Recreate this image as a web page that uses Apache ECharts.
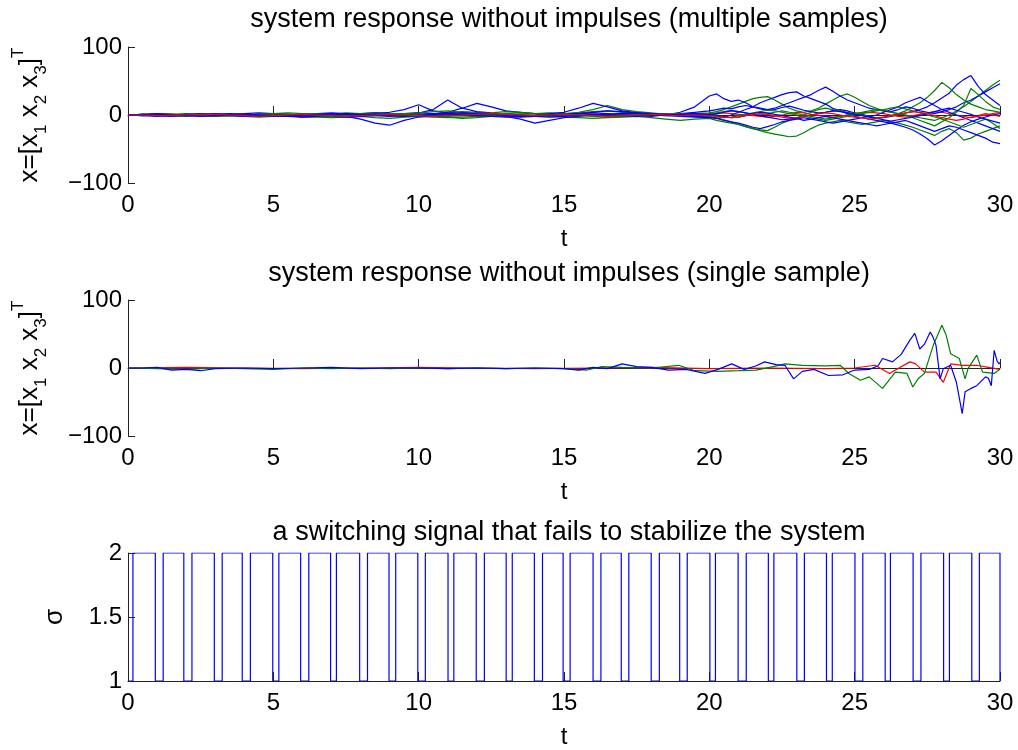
<!DOCTYPE html>
<html><head><meta charset="utf-8">
<script src="https://cdn.jsdelivr.net/npm/echarts@6/dist/echarts.min.js"></script>
<style>html,body{margin:0;padding:0;background:#fff}#c{width:1018px;height:750px}</style>
</head><body><div id="c"></div>
<script>
// ---------- data ----------
const xTicks = [0,5,10,15,20,25,30];
const T = [0,0.5,1,1.5,2,2.5,3,3.5,4,4.5,5,5.5,6,6.5,7,7.5,8,8.5,9,9.5,10,10.5,11,11.5,12,12.5,13,13.5,14,14.5,15,15.5,16,16.5,17,17.5,18,18.5,19,19.5,20,
 20.25,20.5,20.75,21,21.25,21.5,21.75,22,22.25,22.5,22.75,23,23.25,23.5,23.75,24,24.25,24.5,24.75,25,25.25,25.5,25.75,26,26.25,26.5,26.75,27,27.25,27.5,27.75,28,28.25,28.5,28.75,29,29.25,29.5,29.75,30];
// multiple samples (top panel)
const B1 = [0,1,0,-1,1,2,1,0,-1,-2,-1,0,1,2,3,2,1,2,4,8,15,6,3,2,1,0,-2,-3,-2,-1,0,2,3,2,1,0,-2,0,4,12,28,
 31,24,20,22,18,12,9,7,8,11,13,10,7,5,3,4,6,8,6,3,1,-2,-5,-4,-2,0,3,5,8,12,18,25,32,44,52,58,42,30,22,14];
const B2 = [0,0,-1,-2,-1,0,1,2,1,0,-1,-2,-3,-2,0,1,2,3,2,1,3,8,22,10,5,3,-2,-6,-12,-8,-4,-2,0,1,2,1,0,-1,-2,-3,-4,
 -5,-3,0,4,8,12,18,22,26,30,33,34,28,24,20,16,10,6,2,-2,-4,-6,-8,-10,-12,-15,-18,-22,-28,-35,-44,-38,-30,-22,-15,-10,-6,-3,0,2];
const B3 = [0,1,2,1,0,-1,0,1,2,3,2,1,0,-1,-2,-3,-2,-1,0,2,3,2,4,10,17,12,6,4,2,1,0,2,4,6,5,3,1,0,2,4,6,
 8,10,9,12,14,12,10,8,10,14,18,22,26,30,36,41,35,28,22,18,14,10,8,6,5,8,12,10,6,4,2,5,8,12,18,22,28,34,40,46];
const B4 = [0,-1,-2,-1,0,1,0,-1,-2,-1,0,-1,-3,-2,-1,-2,-6,-12,-15,-8,-3,-1,0,1,2,1,0,-1,0,2,4,10,17,12,6,3,1,0,-1,-2,-3,
 -5,-8,-10,-12,-15,-18,-20,-17,-14,-10,-8,-6,-4,-6,-8,-10,-12,-10,-8,-6,-4,-2,0,4,8,12,18,22,26,20,14,8,4,0,-4,-8,-12,-16,-20,-24];
const B5 = [0,0,1,0,-1,-2,-1,0,1,0,-1,-2,-1,0,1,2,1,0,-1,-2,-1,0,1,0,-1,-2,-3,-2,-1,0,1,2,1,0,-1,-2,-1,0,1,2,1,
 0,-2,-4,-3,-1,2,4,3,1,-1,-3,-5,-8,-6,-4,-2,-4,-6,-8,-10,-12,-14,-16,-14,-12,-10,-8,-12,-16,-20,-24,-20,-16,-18,-22,-26,-30,-34,-40,-42];
const B6 = [0,1,0,-1,0,1,2,1,0,-1,-2,-1,0,1,2,1,0,-1,-2,-1,0,1,2,3,2,1,0,-1,-2,-3,-2,-1,0,1,2,3,2,1,0,-1,0,
 2,4,6,5,3,1,-1,-3,-5,-7,-6,-4,-2,0,2,4,6,5,3,1,-1,-3,-5,-7,-9,-7,-5,-3,-1,2,5,8,10,7,4,1,-3,-6,-9,-12];
const G1 = [0,1,0,1,2,1,0,-1,0,1,2,3,2,1,0,1,2,3,2,1,0,1,3,5,4,2,1,0,-1,0,1,3,5,6,4,2,1,0,1,2,3,
 5,8,12,16,20,24,26,27,22,16,10,6,4,6,10,16,22,28,31,26,20,14,10,6,4,2,0,-2,-4,-6,-8,-4,0,6,12,20,28,36,44,51];
const G2 = [0,-1,0,-1,-2,-1,0,-1,-2,-3,-2,-1,-2,-3,-4,-3,-2,-4,-5,-3,-2,-1,-3,-5,-4,-2,-1,0,-1,-2,-3,-4,-5,-4,-3,-2,-4,-6,-8,-6,-5,
 -8,-10,-12,-14,-17,-20,-23,-26,-28,-30,-32,-31,-26,-20,-15,-12,-10,-8,-10,-12,-14,-12,-10,-8,-10,-12,-15,-18,-22,-26,-30,-24,-20,-26,-37,-34,-28,-24,-20,-16];
const G3 = [0,1,2,1,0,-1,-2,-1,0,1,0,-1,-2,-1,1,3,2,1,0,-1,-2,-3,-4,-3,-2,-1,0,1,2,3,2,4,8,14,8,5,3,1,0,-1,-2,
 -4,-7,-10,-14,-17,-20,-22,-23,-18,-12,-8,-4,0,4,8,10,8,6,4,2,0,-2,-4,-3,-1,2,6,12,18,26,36,48,40,30,22,16,12,8,6,4];
const G4 = [0,0,-1,0,1,0,-1,0,1,0,-1,0,1,2,1,0,-1,0,1,2,3,5,6,4,2,3,5,4,2,1,0,-1,0,1,2,1,0,-1,0,1,2,
 3,5,7,5,3,1,0,2,4,6,4,2,0,-2,-4,-6,-4,-2,0,2,4,6,8,6,4,2,0,-4,-8,-12,-16,-10,-4,4,14,39,30,20,12,8];
const G5 = [0,-1,0,1,0,-1,-2,-1,0,1,2,1,0,-1,-2,-1,0,1,2,1,0,-1,-2,-1,0,1,2,3,2,1,0,-1,-2,-3,-2,-1,0,1,2,1,0,
 -2,-4,-3,-1,1,3,5,7,6,4,2,0,-2,-4,-6,-8,-6,-4,-2,0,2,4,6,8,10,12,9,6,3,0,-3,-6,-10,-14,-18,-14,-10,-6,-12,-20];
const R1 = [0,0,1,1,0,0,-1,-1,0,1,1,0,-1,-1,0,1,2,1,0,-1,-1,0,1,2,1,0,-1,-2,-1,0,1,2,1,0,-1,0,1,2,1,0,1,
 2,3,2,1,0,-1,-2,-3,-2,0,2,4,3,1,-1,-2,-3,-2,0,2,3,4,3,2,0,-2,-3,-1,1,3,5,4,2,0,-2,-4,-2,0,2,4];
const R2 = [0,0,-1,-1,0,1,1,0,-1,-2,-1,0,1,0,-1,-2,-1,0,1,0,-1,-2,-1,0,1,2,1,0,-1,0,1,0,-1,-2,-1,0,1,0,-1,0,-1,
 -2,-3,-4,-3,-1,1,2,1,-1,-3,-5,-4,-2,0,2,3,2,0,-2,-3,-4,-6,-5,-3,-1,1,3,5,4,2,-1,-4,-6,-8,-6,-3,-1,2,0,-2];
// single sample (middle panel)
const tBlue = [0,0.5,1,1.5,2,2.5,3,4,5,6,7,8,9,10,11,12,13,14,15,15.5,16,16.5,17,17.5,18,18.6,19.2,19.85,20.3,20.77,21.2,21.6,21.9,22.3,22.6,22.9,23.2,23.6,24.1,24.6,25.0,25.5,25.8,25.96,26.3,26.6,26.9,27.07,27.24,27.4,27.6,27.7,27.8,27.94,28.05,28.3,28.5,28.7,28.8,29.0,29.2,29.5,29.6,29.7,29.8,29.9,29.97,30];
const vBlue = [0,0,1,-3,-2,-4,-1,0,-1,0,1,-1,0,0,-1,0,-1,0,-1,-3,1,-1,6,2,1,-3,-2,-8,-2,6,-2,3,9,5,4,-16,-5,-2,-11,-10,-3,-2,3,14,9,20,41,51,28,35,53,45,33,-16,-1,4,-21,-67,-35,-30,-26,-13,-15,-26,26,10,6,8];
const tGreen = [0,1,2,3,4,5,6,7,8,9,10,11,12,13,14,15,15.8,16.3,17,18,18.95,19.5,20.3,21,21.6,22.2,22.6,23.2,24,24.5,24.8,25.2,25.5,25.96,26.4,26.8,27.0,27.2,27.4,27.7,28.0,28.15,28.3,28.6,28.8,28.9,29.2,29.4,29.8,30];
const vGreen = [0,-1,-2,0,-1,-2,0,-1,0,-1,0,-1,0,-1,0,-1,-3,2,1,0,4,-4,-5,-4,-3,2,6,4,3,4,-8,-18,-13,-30,-6,-8,-28,-15,-8,33,63,48,21,14,-16,-1,19,-6,-8,-2];
const tRed = [0,2,4,6,8,10,12,14,16,18,20,22,24,25,25.7,26.2,26.4,26.9,27.1,27.4,27.8,28.05,28.3,28.7,29.2,29.6,30];
const vRed = [0,1,0,-1,0,1,0,-1,0,1,-1,0,-1,0,4,-8,-3,9,6,-6,-6,-21,6,4,4,1,-2];
// switching signal (bottom panel)
const sigT = [0,0.17,0.94,1.21,1.92,2.20,2.97,3.24,3.93,4.21,4.98,5.19,5.94,6.22,6.97,7.17,7.97,8.24,8.98,9.21,9.97,10.23,11.01,11.21,11.98,12.26,13.01,13.22,13.98,14.26,14.97,15.21,16.0,16.27,16.97,17.23,18.0,18.28,18.98,19.24,20.02,20.21,20.99,21.27,22.03,22.22,23.01,23.27,24.03,24.23,25.01,25.28,26.05,26.23,27.01,27.28,28.06,28.26,29.03,29.29,30];
const sigV = [1,2,1,2,1,2,1,2,1,2,1,2,1,2,1,2,1,2,1,2,1,2,1,2,1,2,1,2,1,2,1,2,1,2,1,2,1,2,1,2,1,2,1,2,1,2,1,2,1,2,1,2,1,2,1,2,1,2,1,2,1];
const titles = ['system response without impulses (multiple samples)','system response without impulses (single sample)','a switching signal that fails to stabilize the system'];

// ---------- chart ----------
const FONT = 'Liberation Sans, Arial, Helvetica, sans-serif';
const BLUE='#0000ff', GREEN='#008000', RED='#ff0000';
const LW = 1.2;
const zip = (t,v)=>t.map((x,i)=>[x,v[i]]);
const grids = [
  {left:128, right:18, top:47, height:136},
  {left:128, right:18, top:300, height:136},
  {left:128, right:18, top:553, height:134}
];
const axisLine = {show:true, lineStyle:{color:'#222', width:1}};
const xAxes = grids.map((g,i)=>({
  type:'value', gridIndex:i, min:0, max:30, interval:5,
  axisLine:axisLine, axisTick:{show:true, inside:true, length:9, lineStyle:{color:'#222'}},
  axisLabel:{color:'#000', fontFamily:FONT, fontSize:24, margin:10},
  splitLine:{show:false},
  name:'t', nameLocation:'middle', nameGap:44,
  nameTextStyle:{color:'#000', fontFamily:FONT, fontSize:24}
}));
const yName = '{a|x=[x}{s|1}{a| x}{s|2}{a| x}{s|3}{a|]}{p|T}';
const yRich = {
  a:{fontSize:26, fontFamily:FONT, color:'#000', lineHeight:40, verticalAlign:'middle'},
  s:{fontSize:17, fontFamily:FONT, color:'#000', lineHeight:14, verticalAlign:'bottom'},
  p:{fontSize:17, fontFamily:FONT, color:'#000', lineHeight:14, verticalAlign:'top'}
};
const yAxes = [0,1,2].map(i=>({
  type:'value', gridIndex:i,
  min: i<2 ? -100 : 1, max: i<2 ? 100 : 2, interval: i<2 ? 100 : 0.5,
  axisLine:axisLine, axisTick:{show:true, inside:true, length:7, lineStyle:{color:'#222'}},
  axisLabel:{color:'#000', fontFamily:FONT, fontSize:24, margin:6,
    formatter: v => (v<0 ? '\u2212'+Math.abs(v) : String(v))},
  splitLine:{show:false},
  name: i<2 ? yName : 'σ', nameLocation:'middle', nameGap: i<2 ? 78 : 60, nameRotate:90,
  nameTextStyle: i<2 ? {rich:yRich} : {color:'#000', fontFamily:FONT, fontSize:26}
}));
function ln(name, data, color, gi){
  return {type:'line', name, data, xAxisIndex:gi, yAxisIndex:gi, showSymbol:false, symbol:'none',
    lineStyle:{color, width:LW}, itemStyle:{color}, animation:false, silent:true, z:2};
}
const series = [
  ln('G1',zip(T,G1),GREEN,0), ln('B1',zip(T,B1),BLUE,0), ln('R1',zip(T,R1),RED,0),
  ln('G2',zip(T,G2),GREEN,0), ln('B2',zip(T,B2),BLUE,0),
  ln('G3',zip(T,G3),GREEN,0), ln('B3',zip(T,B3),BLUE,0),
  ln('G4',zip(T,G4),GREEN,0), ln('B4',zip(T,B4),BLUE,0),
  ln('G5',zip(T,G5),GREEN,0), ln('B5',zip(T,B5),BLUE,0), ln('B6',zip(T,B6),BLUE,0),
  ln('R2',zip(T,R2),RED,0),
  ln('x1',zip(tRed,vRed),RED,1), ln('x2',zip(tGreen,vGreen),GREEN,1), ln('x3',zip(tBlue,vBlue),BLUE,1),
  Object.assign(ln('sigma',zip(sigT,sigV),BLUE,2), {step:'end'})
];
const chart = echarts.init(document.getElementById('c'), null, {renderer:'canvas'});
chart.setOption({
  animation:false,
  backgroundColor:'#fff',
  title: titles.map((t,i)=>({text:t, left:564, top:[1,255,514][i], textAlign:'center',
    textStyle:{fontFamily:FONT, fontSize:27, fontWeight:'normal', color:'#000'}})),
  grid: grids,
  xAxis: xAxes,
  yAxis: yAxes,
  series
});
</script></body></html>
